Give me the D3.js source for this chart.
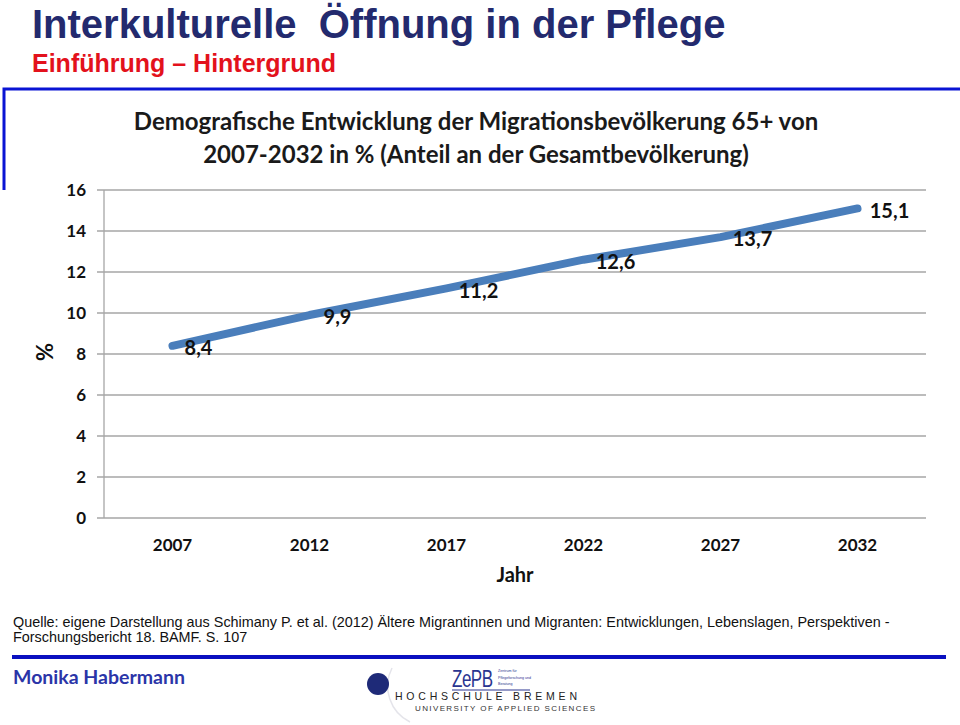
<!DOCTYPE html>
<html><head><meta charset="utf-8">
<script src="https://cdn.jsdelivr.net/npm/d3@7"></script>
<style>body{margin:0;background:#fff}svg{display:block}</style>
</head><body><svg id="c" width="960" height="725"></svg>
<script>
const years = ["2007","2012","2017","2022","2027","2032"];
const values = [8.4, 9.9, 11.2, 12.6, 13.7, 15.1];
const labels = ["8,4","9,9","11,2","12,6","13,7","15,1"];
const yTicks = [0,2,4,6,8,10,12,14,16];

const svg = d3.select("#c");
const cal = "Lato, 'Open Sans', sans-serif";
const ari = "'Liberation Sans', Arial, sans-serif";

// Header
svg.append("text").attr("x",32).attr("y",38).attr("font-family",ari)
  .attr("font-weight","bold").attr("font-size",40).attr("fill","#232a6e").attr("xml:space","preserve")
  .text("Interkulturelle  Öffnung in der Pflege");
svg.append("text").attr("x",32).attr("y",72).attr("font-family",ari)
  .attr("font-weight","bold").attr("font-size",25).attr("fill","#e3121c")
  .text("Einführung – Hintergrund");

// Blue frame
svg.append("path").attr("d","M4,190 L4,89 L960,89").attr("fill","none").attr("stroke","#0a14d4").attr("stroke-width",3);

// Chart
const x = d3.scaleBand().domain(years).range([104,926]);
const y = d3.scaleLinear().domain([0,16]).range([518,190]);

const g = svg.append("g");
g.selectAll("line.grid").data(yTicks).join("line").attr("class","grid")
  .attr("x1",97).attr("x2",926).attr("y1",d=>y(d)).attr("y2",d=>y(d))
  .attr("stroke","#a6a6a6").attr("stroke-width",1.3);
g.append("line").attr("x1",104).attr("x2",104).attr("y1",y(16)).attr("y2",y(0))
  .attr("stroke","#a6a6a6").attr("stroke-width",1.3);

g.selectAll("text.yt").data(yTicks).join("text").attr("class","yt")
  .attr("x",86).attr("y",d=>y(d)).attr("dy","0.36em").attr("text-anchor","end")
  .attr("font-family",cal).attr("font-weight","bold").attr("font-size",17).attr("fill","#111")
  .text(d=>d);

g.selectAll("text.xt").data(years).join("text").attr("class","xt")
  .attr("x",d=>x(d)+x.bandwidth()/2).attr("y",545).attr("dy","0.36em").attr("text-anchor","middle")
  .attr("font-family",cal).attr("font-weight","bold").attr("font-size",17).attr("fill","#111")
  .text(d=>d);

svg.append("text").attr("x",515).attr("y",575).attr("dy","0.36em").attr("text-anchor","middle")
  .attr("font-family",cal).attr("font-weight","bold").attr("font-size",20).attr("fill","#111").text("Jahr");

svg.append("text").attr("transform","translate(45,352) rotate(-90)").attr("dy","0.36em").attr("text-anchor","middle")
  .attr("font-family",cal).attr("font-weight","bold").attr("font-size",22).attr("fill","#111").text("%");

const line = d3.line().x((d,i)=>x(years[i])+x.bandwidth()/2).y(d=>y(d));
g.append("path").datum(values).attr("d",line).attr("fill","none")
  .attr("stroke","#4a7ebb").attr("stroke-width",8).attr("stroke-linecap","round").attr("stroke-linejoin","round");

g.selectAll("text.lab").data(values).join("text").attr("class","lab")
  .attr("x",(d,i)=>x(years[i])+x.bandwidth()/2+ (i===0?26:i===1?28:32))
  .attr("y",d=>y(d)+2).attr("dy","0.36em").attr("text-anchor","middle")
  .attr("font-family",cal).attr("font-weight","bold").attr("font-size",20).attr("fill","#111")
  .text((d,i)=>labels[i]);

// Chart title
const t = svg.append("text").attr("text-anchor","middle").attr("font-family",cal).attr("font-weight","bold")
  .attr("font-size",24).attr("fill","#1a1a1a");
t.append("tspan").attr("x",476).attr("y",130).text("Demografische Entwicklung der Migrationsbevölkerung 65+ von");
t.append("tspan").attr("x",476).attr("y",163).text("2007-2032 in % (Anteil an der Gesamtbevölkerung)");

// Source
const s = svg.append("text").attr("font-family",ari).attr("font-size",14.4).attr("fill","#111");
s.append("tspan").attr("x",13).attr("y",627).text("Quelle: eigene Darstellung aus Schimany P. et al. (2012) Ältere Migrantinnen und Migranten: Entwicklungen, Lebenslagen, Perspektiven -");
s.append("tspan").attr("x",13).attr("y",642).text("Forschungsbericht 18. BAMF. S. 107");

// Footer line
svg.append("line").attr("x1",12).attr("x2",946).attr("y1",657).attr("y2",657).attr("stroke","#0a10c0").attr("stroke-width",4);
svg.append("text").attr("x",13).attr("y",684).attr("font-family",cal).attr("font-weight","bold").attr("font-size",19.5)
  .attr("fill","#2b35a8").text("Monika Habermann");

// Logo
svg.append("path").attr("d","M392,668 A40,40 0 0,0 410,722").attr("fill","none").attr("stroke","#e4e4ea").attr("stroke-width",1.5);
svg.append("circle").attr("cx",378).attr("cy",684).attr("r",11).attr("fill","#1e2a78");
svg.append("text").attr("transform","translate(452,687) scale(1,1.4)").attr("font-family",ari).attr("font-size",17)
  .attr("fill","#2a3590").attr("letter-spacing",-0.5).text("ZePB");
const tinyLines = ["Zentrum für","Pflegeforschung und","Beratung"];
svg.selectAll("text.tiny").data(tinyLines).join("text").attr("class","tiny")
  .attr("x",498).attr("y",(d,i)=>672+i*6.5).attr("font-family",ari).attr("font-size",3.6).attr("fill","#2a3590")
  .text(d=>d);
svg.append("line").attr("x1",452).attr("x2",530).attr("y1",690).attr("y2",690).attr("stroke","#2a3590").attr("stroke-width",1);
svg.append("text").attr("x",395).attr("y",700).attr("font-family",ari).attr("font-size",10.5)
  .attr("fill","#222").attr("textLength",182).attr("lengthAdjust","spacing").text("HOCHSCHULE BREMEN");
svg.append("text").attr("x",415).attr("y",711).attr("font-family",ari).attr("font-size",8)
  .attr("fill","#333").attr("textLength",180).attr("lengthAdjust","spacing").text("UNIVERSITY OF APPLIED SCIENCES");
</script></body></html>
